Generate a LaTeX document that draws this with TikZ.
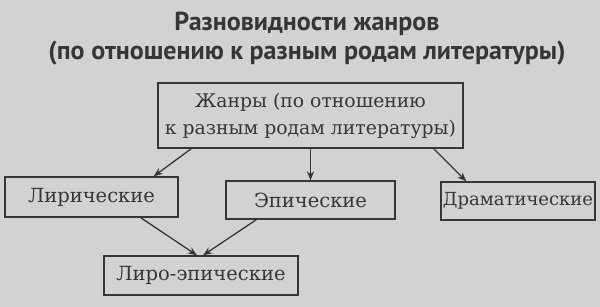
\documentclass[tikz,border=0pt]{standalone}
\usepackage{fontspec}
\setmainfont{DejaVu Serif}
\newfontfamily\titlefont{PT Sans}
\usetikzlibrary{arrows.meta,calc}
\definecolor{paper}{HTML}{D2D2D2}
\definecolor{ink}{HTML}{363636}
\begin{document}
\begin{tikzpicture}[x=1pt,y=-1pt,
  box/.style={draw=ink, line width=1.3pt, text=ink, inner sep=0pt,
    font=\fontsize{19.5}{27}\selectfont, align=center},
  conn/.style={draw=ink, line width=1.3pt, -{Stealth[length=9pt,width=7pt]}}]
\fill[paper] (0,0) rectangle (600,307);
\useasboundingbox (0,0) rectangle (600,307);
\node[text=ink, font=\titlefont\bfseries\fontsize{26}{29}\selectfont, align=center, anchor=base]
  (title) at (307,60) {Разновидности жанров\\(по отношению к разным родам литературы)};
\node[box, minimum width=305pt, minimum height=65pt, font=\fontsize{18.8}{27}\selectfont] (top) at (310.5,115.5)
  {Жанры (по отношению\\к разным родам литературы)};
\node[box, minimum width=173pt, minimum height=40pt] (lir) at (91.5,197) {Лирические};
\node[box, minimum width=169pt, minimum height=38pt] (epi) at (310.5,200) {Эпические};
\node[box, minimum width=154pt, minimum height=38pt, font=\fontsize{18}{22}\selectfont] (dram) at (518,201) {Драматические};
\node[box, minimum width=194pt, minimum height=39pt] (lire) at (201,275.5) {Лиро-эпические};
\draw[conn] ($(top.south west)+(34,0)$) -- ($(lir.north east)+(-25,0)$);
\draw[conn] (top.south) -- (epi.north);
\draw[conn] ($(top.south east)+(-30,0)$) -- ($(dram.north west)+(26,0)$);
\draw[conn] ($(lir.south east)+(-38,0)$) -- ($(lire.north)+(-4,0)$);
\draw[conn] ($(epi.south west)+(31,0)$) -- ($(lire.north)+(2,0)$);
\end{tikzpicture}
\end{document}
